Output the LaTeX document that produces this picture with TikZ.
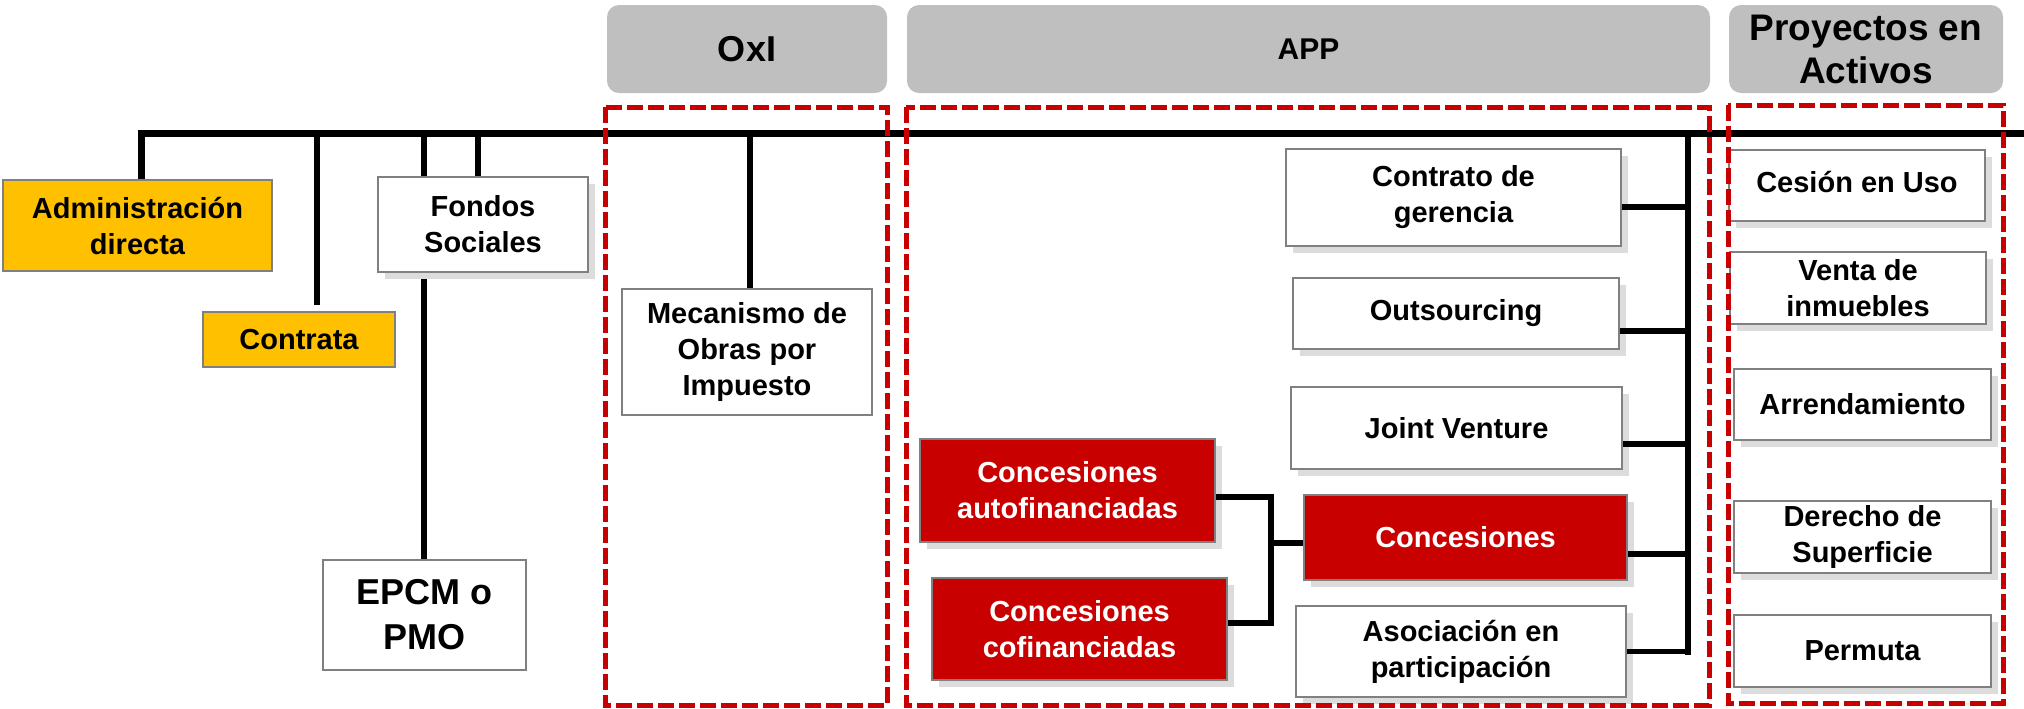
\documentclass[tikz,border=0pt]{standalone}
\usepackage{fontspec}
\setmainfont{Liberation Sans}
\usetikzlibrary{shadows,calc}
\definecolor{gold}{HTML}{FFC000}
\definecolor{rd}{HTML}{C80000}
\definecolor{hdr}{HTML}{BFBFBF}
\definecolor{bgr}{HTML}{808080}
\definecolor{shd}{HTML}{DCDCDC}
\newcommand\Bx[7]{\node[#6, minimum width={(#4-#2)*0.5pt}, minimum height={(#5-#3)*0.5pt}] (#1) at ({(#2+#4)/2},{(#3+#5)/2}) {#7};}
\begin{document}
\begin{tikzpicture}[x=0.5pt,y=-0.5pt,
  bbox/.style={draw=bgr, line width=1pt, align=center, inner sep=0pt, fill=white,
    font=\bfseries\fontsize{14.5}{18}\selectfont},
  sh/.style={drop shadow={shadow xshift=3.5pt, shadow yshift=-3.5pt, fill=shd, opacity=1}},
  goldbox/.style={bbox, fill=gold},
  redbox/.style={bbox, sh, fill=rd, text=white},
  wbox/.style={bbox, sh},
  nbox/.style={bbox},
  hdrbox/.style={fill=hdr, rounded corners=6pt, align=center, inner sep=0pt},
  dashbox/.style={draw=rd, line width=2.5pt, dash pattern=on 8pt off 2.5pt},
  mainline/.style={line width=3.5pt},
  conn/.style={line width=2.75pt},
]
\useasboundingbox (0,0) rectangle (2024,708);

% headers
\Bx{hoxi}{607}{5}{887}{93}{hdrbox, font=\bfseries\fontsize{18}{21}\selectfont}{OxI}
\Bx{happ}{907}{5}{1710}{93}{hdrbox, font=\bfseries\fontsize{15}{18}\selectfont}{APP}
\Bx{hpro}{1729}{5}{2003}{93}{hdrbox, font=\bfseries\fontsize{18.5}{21.5}\selectfont}{Proyectos en\\Activos}

% left boxes
\Bx{adm}{3}{180}{272}{271}{goldbox}{Administración\\directa}
\Bx{ctr}{203}{312}{395}{367}{goldbox}{Contrata}
\Bx{fon}{378}{177}{588}{272}{wbox}{Fondos\\Sociales}
\Bx{epc}{323}{560}{526}{670}{nbox, font=\bfseries\fontsize{18}{22.5}\selectfont}{EPCM o\\PMO}

% OxI
\Bx{mec}{622}{289}{872}{415}{nbox}{Mecanismo de\\Obras por\\Impuesto}

% APP
\Bx{ger}{1286}{149}{1621}{246}{wbox}{Contrato de\\gerencia}
\Bx{out}{1293}{278}{1619}{349}{wbox}{\raisebox{2.5pt}{Outsourcing}}
\Bx{jv}{1291}{387}{1622}{469}{wbox}{Joint Venture}
\Bx{con}{1304}{495}{1627}{580}{redbox}{Concesiones}
\Bx{aso}{1296}{606}{1626}{697}{wbox}{Asociación en\\participación}
\Bx{af}{920}{439}{1215}{542}{redbox}{Concesiones\\autofinanciadas}
\Bx{cf}{932}{578}{1227}{680}{redbox}{Concesiones\\cofinanciadas}

% Proyectos en Activos
\Bx{ces}{1729}{150}{1985}{221}{wbox}{\raisebox{3.5pt}{Cesión en Uso}}
\Bx{ven}{1730}{252}{1986}{324}{wbox}{Venta de\\inmuebles}
\Bx{arr}{1734}{369}{1991}{440}{wbox}{Arrendamiento}
\Bx{der}{1734}{501}{1991}{573}{wbox}{Derecho de\\Superficie}
\Bx{per}{1734}{615}{1991}{687}{wbox}{Permuta}

% coordinates
\coordinate (mR) at (2024,133);
\coordinate (ctT) at (317,133);
\coordinate (ctB) at (317,305);
\coordinate (f1) at (424,133);
\coordinate (f2) at (478,133);
\coordinate (e1) at (424,279);
\coordinate (m1) at (750,133);
\coordinate (busT) at (1688,133);
\coordinate (busB) at (1688,655);
\coordinate (sb) at (1271,497);

% main line and drops
\draw[mainline] ([xshift=1.75pt]adm.north) |- (mR);
\draw[conn] (ctT) -- (ctB);
\draw[conn] (f1) -- (f1 |- fon.north);
\draw[conn] (f2) -- (f2 |- fon.north);
\draw[conn] (e1) -- (e1 |- epc.north);
\draw[conn] (m1) -- (m1 |- mec.north);

% APP bus
\draw[conn] (busT) -- (busB);
\draw[conn] ([yshift=-4.75pt]ger.east) -- ([yshift=-4.75pt]ger.east -| busT);
\draw[conn] ([yshift=-8.75pt]out.east) -- ([yshift=-8.75pt]out.east -| busT);
\draw[conn] ([yshift=-8pt]jv.east) -- ([yshift=-8pt]jv.east -| busT);
\draw[conn] ([yshift=-8.25pt]con.east) -- ([yshift=-8.25pt]con.east -| busT);
\draw[conn] (aso.east) -- (aso.east -| busT);

% concesiones sub-bus
\draw[conn] ([yshift=-3.25pt]af.east) -| ([yshift=3pt]cf.east -| sb) -- ([yshift=3pt]cf.east);
\draw[conn] ([yshift=-2.75pt]con.west -| sb) -- ([yshift=-2.75pt]con.west);

% dashed groups
\draw[dashbox] (605,107) rectangle (887,705);
\draw[dashbox] (906,107) rectangle (1709,705);
\draw[dashbox] (1728,105) rectangle (2003,703);
\end{tikzpicture}
\end{document}
